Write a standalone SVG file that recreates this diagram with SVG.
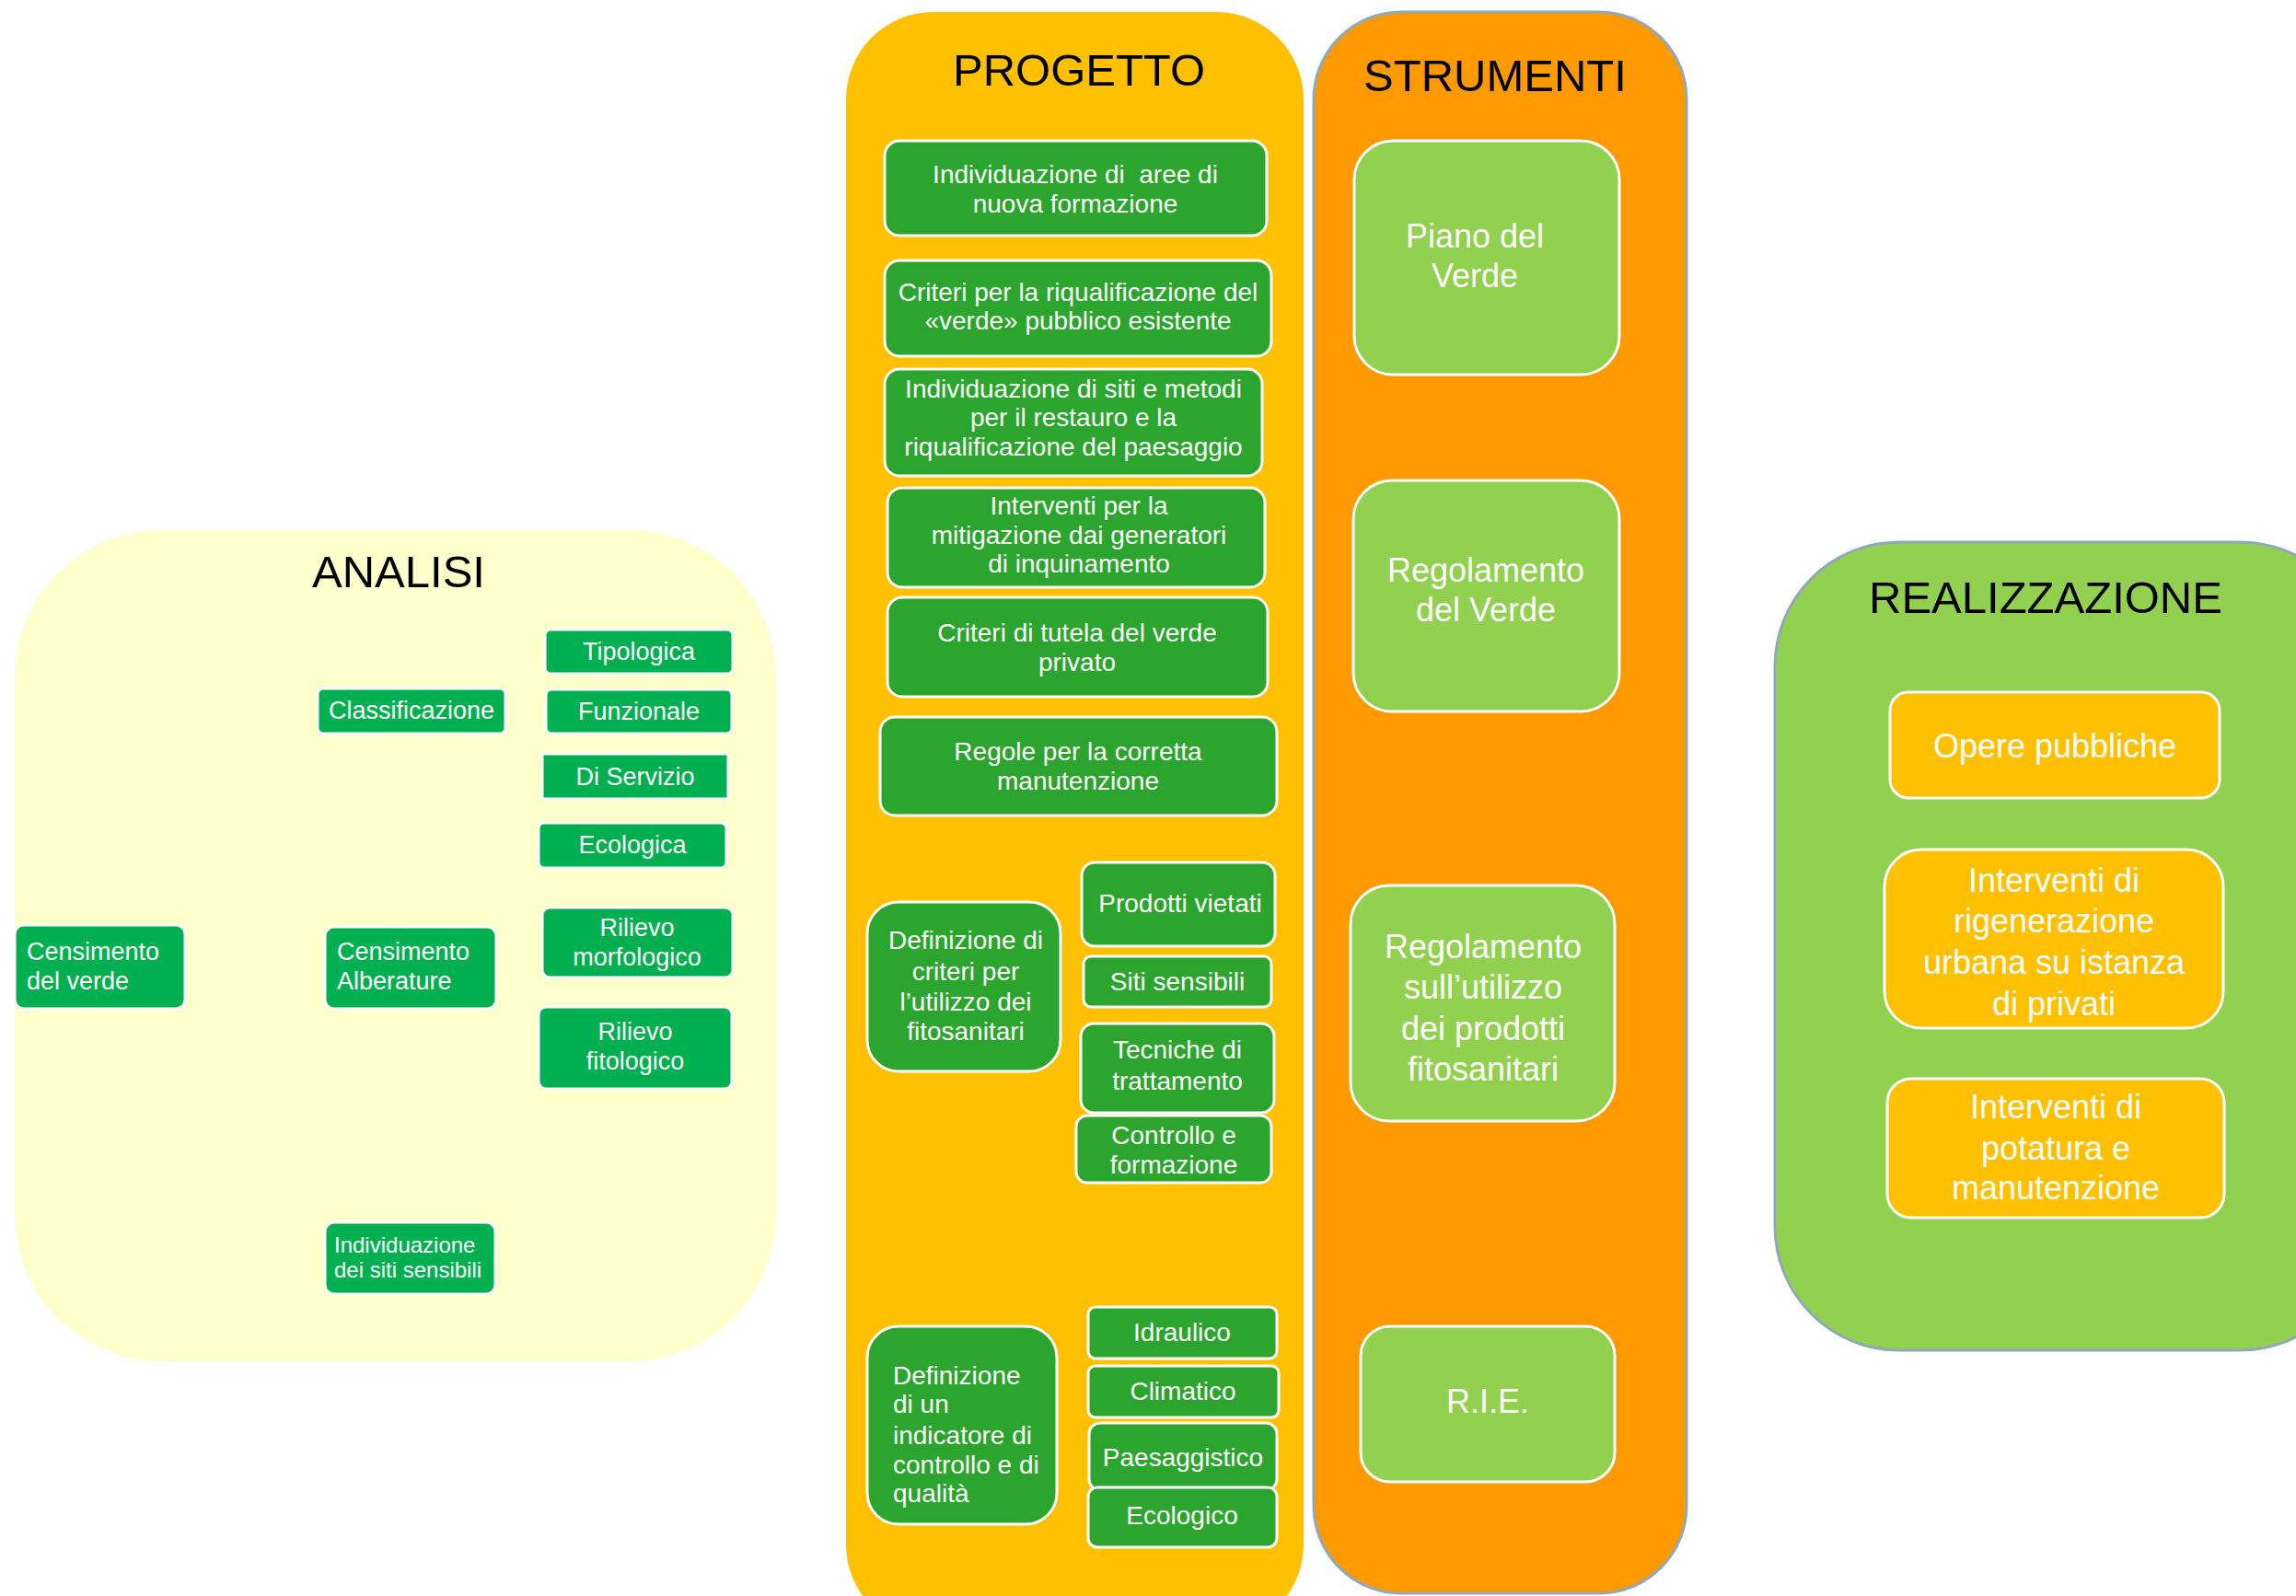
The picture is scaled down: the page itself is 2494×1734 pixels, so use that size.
<svg xmlns="http://www.w3.org/2000/svg" width="2494" height="1734" viewBox="0 0 2494 1734">
<style>
.t{font-family:"Liberation Sans",Arial,sans-serif;fill:#fff;text-anchor:middle;dominant-baseline:central}
.tl{text-anchor:start}
.s{font-size:27px}
.xs{font-size:24px}
.m{font-size:28px}
.l{font-size:36px}
.title{font-family:"Liberation Sans",Arial,sans-serif;font-size:49px;fill:#000;text-anchor:middle}
.ga{fill:#00B050;stroke:#fff;stroke-width:3}
.gp{fill:#2BA52E;stroke:#fff;stroke-width:3}
.gs{fill:#92D050;stroke:#fff;stroke-width:3}
.gr{fill:#FFC000;stroke:#fff;stroke-width:3}
</style>
<rect width="2494" height="1734" fill="#fff"/>
<g id="panels">
<g id="panel-analisi">
<rect x="16" y="576" width="827" height="903" rx="160" fill="#FFFFCC"/>
<text class="title" x="433" y="638">ANALISI</text>
</g>
<g id="panel-progetto">
<rect x="919" y="13" width="497" height="1760" rx="95" fill="#FFC000"/>
<text class="title" x="1172" y="93">PROGETTO</text>
</g>
<g id="panel-strumenti">
<rect x="1427" y="13" width="405" height="1718" rx="95" fill="#FF9900" stroke="#8DA9BA" stroke-width="3"/>
<text class="title" x="1624" y="99">STRUMENTI</text>
</g>
<g id="panel-realizzazione">
<rect x="1928" y="589" width="640" height="878" rx="135" fill="#92D050" stroke="#8DA9BA" stroke-width="3"/>
<text class="title" x="2222" y="666">REALIZZAZIONE</text>
</g>
</g>
<g id="connectors"/>
<g id="nodes-analisi">
<g id="n-tipologica"><rect class="ga" x="592" y="684" width="204" height="48" rx="6"/><text class="t s" x="694" y="708">Tipologica</text></g>
<g id="n-classificazione"><rect class="ga" x="345" y="748" width="204" height="49" rx="6"/><text class="t s" x="447" y="772">Classificazione</text></g>
<g id="n-funzionale"><rect class="ga" x="593" y="749" width="202" height="48" rx="6"/><text class="t s" x="694" y="773">Funzionale</text></g>
<g id="n-diservizio"><rect class="ga" x="589" y="819" width="202" height="49" rx="2"/><text class="t s" x="690" y="844">Di Servizio</text></g>
<g id="n-ecologica"><rect class="ga" x="585" y="894" width="204" height="49" rx="6"/><text class="t s" x="687" y="918">Ecologica</text></g>
<g id="n-censverde"><rect class="ga" x="16" y="1005" width="185" height="91" rx="10"/><text class="t s tl" x="29" y="1034">Censimento</text><text class="t s tl" x="29" y="1066">del verde</text></g>
<g id="n-censalb"><rect class="ga" x="353" y="1007" width="186" height="89" rx="10"/><text class="t s tl" x="366" y="1034">Censimento</text><text class="t s tl" x="366" y="1066">Alberature</text></g>
<g id="n-morfologico"><rect class="ga" x="589" y="986" width="207" height="76" rx="8"/><text class="t s" x="692" y="1008">Rilievo</text><text class="t s" x="692" y="1040">morfologico</text></g>
<g id="n-fitologico"><rect class="ga" x="585" y="1094" width="210" height="89" rx="8"/><text class="t s" x="690" y="1121">Rilievo</text><text class="t s" x="690" y="1153">fitologico</text></g>
<g id="n-sitisensibili"><rect class="ga" x="353" y="1328" width="185" height="78" rx="10"/><text class="t xs tl" x="363" y="1352">Individuazione</text><text class="t xs tl" x="363" y="1379">dei siti sensibili</text></g>
</g>
<g id="nodes-progetto">
<g id="p1"><rect class="gp" x="961" y="153" width="415" height="103" rx="16"/><text class="t m" x="1168" y="189">Individuazione di&#160; aree di</text><text class="t m" x="1168" y="221">nuova formazione</text></g>
<g id="p2"><rect class="gp" x="961" y="283" width="420" height="104" rx="16"/><text class="t m" x="1171" y="317">Criteri per la riqualificazione del</text><text class="t m" x="1171" y="348">«verde» pubblico esistente</text></g>
<g id="p3"><rect class="gp" x="961" y="401" width="410" height="116" rx="16"/><text class="t m" x="1166" y="422">Individuazione di siti e metodi</text><text class="t m" x="1166" y="453">per il restauro e la</text><text class="t m" x="1166" y="485">riqualificazione del paesaggio</text></g>
<g id="p4"><rect class="gp" x="964" y="530" width="410" height="108" rx="16"/><text class="t m" x="1172" y="549">Interventi per la</text><text class="t m" x="1172" y="581">mitigazione dai generatori</text><text class="t m" x="1172" y="612">di inquinamento</text></g>
<g id="p5"><rect class="gp" x="964" y="649" width="413" height="108" rx="16"/><text class="t m" x="1170" y="687">Criteri di tutela del verde</text><text class="t m" x="1170" y="719">privato</text></g>
<g id="p6"><rect class="gp" x="956" y="779" width="431" height="107" rx="16"/><text class="t m" x="1171" y="816">Regole per la corretta</text><text class="t m" x="1171" y="848">manutenzione</text></g>
<g id="p7"><rect class="gp" x="942" y="980" width="210" height="184" rx="34"/><text class="t m" x="1049" y="1021">Definizione di</text><text class="t m" x="1049" y="1055">criteri per</text><text class="t m" x="1049" y="1088">l’utilizzo dei</text><text class="t m" x="1049" y="1120">fitosanitari</text></g>
<g id="p8"><rect class="gp" x="1175" y="937" width="210" height="91" rx="14"/><text class="t m" x="1282" y="981">Prodotti vietati</text></g>
<g id="p9"><rect class="gp" x="1177" y="1039" width="204" height="55" rx="8"/><text class="t m" x="1279" y="1066">Siti sensibili</text></g>
<g id="p10"><rect class="gp" x="1174" y="1112" width="210" height="97" rx="14"/><text class="t m" x="1279" y="1140">Tecniche di</text><text class="t m" x="1279" y="1174">trattamento</text></g>
<g id="p11"><rect class="gp" x="1169" y="1212" width="212" height="73" rx="12"/><text class="t m" x="1275" y="1233">Controllo e</text><text class="t m" x="1275" y="1265">formazione</text></g>
<g id="p12"><rect class="gp" x="942" y="1441" width="206" height="215" rx="34"/><text class="t m tl" x="970" y="1494">Definizione</text><text class="t m tl" x="970" y="1525">di un</text><text class="t m tl" x="970" y="1559">indicatore di</text><text class="t m tl" x="970" y="1591">controllo e di</text><text class="t m tl" x="970" y="1622">qualità</text></g>
<g id="p13"><rect class="gp" x="1182" y="1420" width="205" height="56" rx="8"/><text class="t m" x="1284" y="1447">Idraulico</text></g>
<g id="p14"><rect class="gp" x="1182" y="1484" width="207" height="56" rx="8"/><text class="t m" x="1285" y="1511">Climatico</text></g>
<g id="p15"><rect class="gp" x="1183" y="1546" width="204" height="73" rx="12"/><text class="t m" x="1285" y="1583">Paesaggistico</text></g>
<g id="p16"><rect class="gp" x="1182" y="1616" width="205" height="65" rx="10"/><text class="t m" x="1284" y="1646">Ecologico</text></g>
</g>
<g id="nodes-strumenti">
<g id="s1"><rect class="gs" x="1471" y="153" width="288" height="254" rx="42"/><text class="t l" x="1602" y="256">Piano del</text><text class="t l" x="1602" y="299">Verde</text></g>
<g id="s2"><rect class="gs" x="1470" y="522" width="289" height="251" rx="42"/><text class="t l" x="1614" y="619">Regolamento</text><text class="t l" x="1614" y="662">del Verde</text></g>
<g id="s3"><rect class="gs" x="1467" y="962" width="287" height="256" rx="42"/><text class="t l" x="1611" y="1028">Regolamento</text><text class="t l" x="1611" y="1072">sull’utilizzo</text><text class="t l" x="1611" y="1117">dei prodotti</text><text class="t l" x="1611" y="1161">fitosanitari</text></g>
<g id="s4"><rect class="gs" x="1478" y="1441" width="276" height="169" rx="32"/><text class="t l" x="1616" y="1522">R.I.E.</text></g>
</g>
<g id="nodes-realizzazione">
<g id="r1"><rect class="gr" x="2053" y="752" width="358" height="115" rx="20"/><text class="t l" x="2232" y="810">Opere pubbliche</text></g>
<g id="r2"><rect class="gr" x="2047" y="923" width="368" height="194" rx="40"/><text class="t l" x="2231" y="956">Interventi di</text><text class="t l" x="2231" y="1000">rigenerazione</text><text class="t l" x="2231" y="1045">urbana su istanza</text><text class="t l" x="2231" y="1090">di privati</text></g>
<g id="r3"><rect class="gr" x="2050" y="1172" width="366" height="151" rx="26"/><text class="t l" x="2233" y="1202">Interventi di</text><text class="t l" x="2233" y="1247">potatura e</text><text class="t l" x="2233" y="1290">manutenzione</text></g>
</g>
</svg>
